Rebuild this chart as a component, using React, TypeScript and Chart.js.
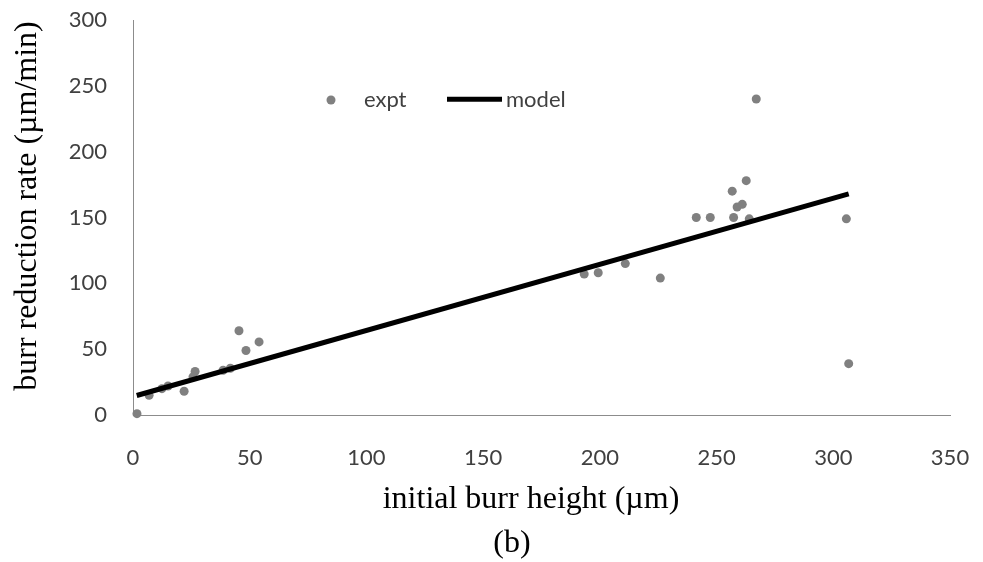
import React, { useEffect, useRef } from 'react';
import { Chart, registerables } from 'chart.js';

Chart.register(...registerables);

// experimental points
const exptX = [1.7, 6.9, 12.4, 15, 21.9, 25.7, 26.6, 38.6, 41.7, 45.4, 48.4, 54, 193.3, 199.3, 210.9, 225.9, 241.3, 247.3, 256.7, 257.3, 258.8, 261, 262.7, 264, 267, 305.6, 306.6];
const exptY = [1, 15, 20, 22, 18, 29, 33, 34, 35.5, 64, 49, 55.5, 107, 108, 115, 104, 150, 150, 170, 150, 158, 160, 178, 149, 240, 149, 39];

// model line
const modelX = [1.6, 306.6];
const modelY = [14.8, 168];

const xMin = 0, xMax = 350, xStep = 50;
const yMin = 0, yMax = 300, yStep = 50;

const seriesLabels = ['expt', 'model'];
const xTitle = 'initial burr height (µm)';
const yTitle = 'burr reduction rate (µm/min)';
const caption = '(b)';

const tickFont = { family: 'Lato', size: 22 };
const tickColor = '#404040';
const titleFont = '32px "Liberation Serif"';

const overlay = {
  id: 'overlay',
  afterDraw(chart: any) {
    const { ctx, chartArea: a } = chart;
    const ds = chart.data.datasets;
    ctx.save();
    // legend
    const ly = a.top + 80;
    ctx.fillStyle = ds[0].backgroundColor;
    ctx.beginPath();
    ctx.arc(a.left + 198, ly, 4.5, 0, Math.PI * 2);
    ctx.fill();
    ctx.font = '22px Lato';
    ctx.fillStyle = tickColor;
    ctx.textBaseline = 'alphabetic';
    ctx.textAlign = 'left';
    ctx.fillText(ds[0].label, a.left + 231, ly + 7);
    ctx.strokeStyle = ds[1].borderColor;
    ctx.lineWidth = ds[1].borderWidth;
    ctx.beginPath();
    ctx.moveTo(a.left + 314, ly - 0.7);
    ctx.lineTo(a.left + 369, ly - 0.7);
    ctx.stroke();
    ctx.fillText(ds[1].label, a.left + 373, ly + 7);

    // axis titles and caption
    ctx.fillStyle = '#000';
    ctx.font = titleFont;
    ctx.textAlign = 'center';
    ctx.fillText(xTitle, 531, 508);
    ctx.fillText(caption, 512, 552);
    ctx.translate(36, 206);
    ctx.rotate(-Math.PI / 2);
    ctx.fillText(yTitle, 0, 0);
    ctx.restore();
  },
};

export default function App() {
  const ref = useRef<HTMLCanvasElement>(null);
  useEffect(() => {
    if (!ref.current) return;
    const chart = new Chart(ref.current, {
      type: 'scatter',
      data: {
        datasets: [
          {
            label: seriesLabels[0],
            data: exptX.map((x, i) => ({ x, y: exptY[i] })),
            backgroundColor: '#808080',
            borderColor: '#808080',
            pointRadius: 4.5,
            pointBorderWidth: 0,
            showLine: false,
            clip: false,
            order: 2,
          },
          {
            label: seriesLabels[1],
            data: modelX.map((x, i) => ({ x, y: modelY[i] })),
            borderColor: '#000000',
            backgroundColor: '#000000',
            borderWidth: 5,
            pointRadius: 0,
            showLine: true,
            clip: false,
            order: 1,
          },
        ],
      },
      options: {
        animation: false,
        responsive: false,
        devicePixelRatio: 1,
        layout: { padding: { top: 20, right: 33, left: 0, bottom: 0 } },
        plugins: {
          legend: { display: false },
          tooltip: { enabled: false },
          title: { display: false },
        },
        scales: {
          x: {
            type: 'linear',
            min: xMin,
            max: xMax,
            grid: { display: false, drawTicks: false },
            border: { display: true, color: '#8c8c8c', width: 1 },
            ticks: { stepSize: xStep, font: tickFont, color: tickColor, padding: 30, maxRotation: 0 },
            afterFit: (s: any) => { s.height = 147; s.paddingLeft = 0; s.paddingRight = 0; },
          },
          y: {
            type: 'linear',
            min: yMin,
            max: yMax,
            grid: { display: false, drawTicks: false },
            border: { display: true, color: '#8c8c8c', width: 1 },
            ticks: { stepSize: yStep, font: tickFont, color: tickColor, padding: 26 },
            afterFit: (s: any) => { s.width = 133; s.paddingTop = 0; s.paddingBottom = 0; },
          },
        },
      },
      plugins: [overlay],
    });
    return () => chart.destroy();
  }, []);
  return (
    <div style={{ position: 'fixed', left: 0, top: 0, width: 983, height: 562, background: '#fff' }}>
      <canvas ref={ref} width={983} height={562} style={{ width: 983, height: 562, display: 'block' }} />
    </div>
  );
}
